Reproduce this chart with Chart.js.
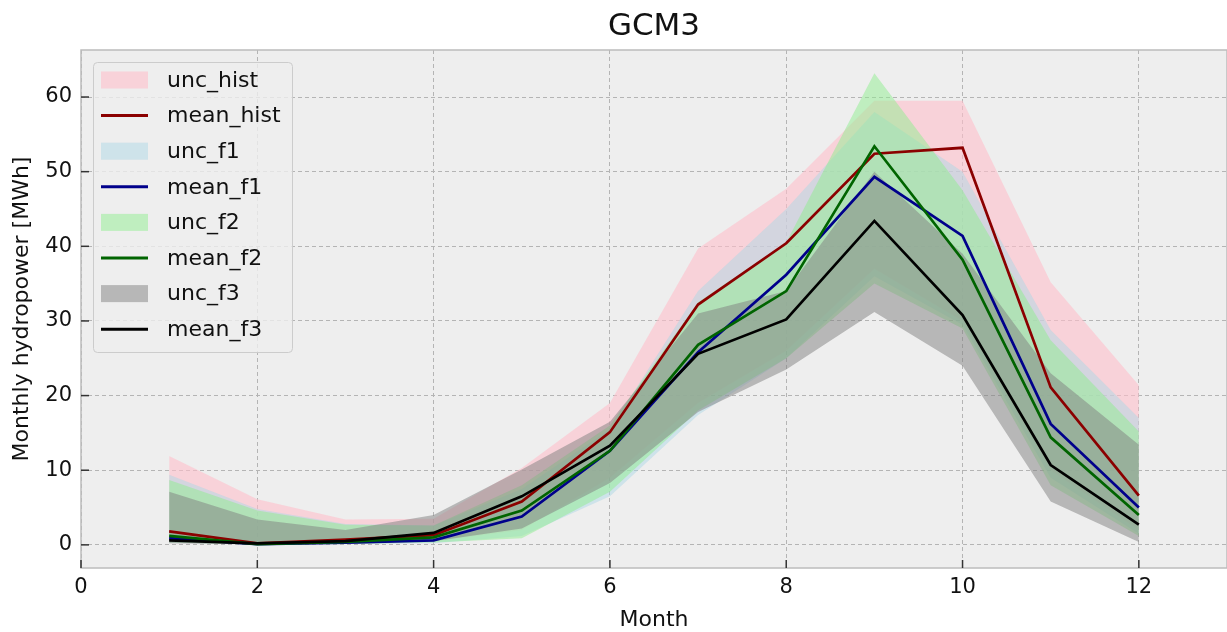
<!DOCTYPE html>
<html>
<head>
<meta charset="utf-8">
<script src="https://cdn.jsdelivr.net/npm/chart.js@4"></script>
<style>
html,body{margin:0;padding:0;background:#fff;}
#wrap{width:1227px;height:632px;position:relative;}
</style>
</head>
<body>
<div id="wrap"><canvas id="c" width="1227" height="632"></canvas></div>
<script>
// ---- data ----
const months = [1,2,3,4,5,6,7,8,9,10,11,12];
const xTicks = [0,2,4,6,8,10,12];
const yTicks = [0,10,20,30,40,50,60];

const meanHist = [1.8, 0.2, 0.7, 1.3, 5.8, 15.1, 32.2, 40.4, 52.4, 53.2, 21.1, 6.6];
const meanF1   = [0.9, 0.1, 0.3, 0.6, 3.8, 12.6, 25.8, 36.2, 49.3, 41.4, 16.2, 5.0];
const meanF2   = [1.2, 0.1, 0.4, 1.0, 4.6, 12.6, 26.8, 34.0, 53.4, 38.2, 14.4, 4.0];
const meanF3   = [0.6, 0.2, 0.5, 1.6, 6.5, 13.3, 25.6, 30.2, 43.4, 30.8, 10.7, 2.7];

const histHigh = [11.9, 6.1, 3.4, 3.5, 10.3, 19.0, 39.7, 47.7, 59.5, 59.5, 35.2, 21.4];
const f1High   = [9.4, 4.8, 2.8, 2.6, 7.5, 15.5, 34.0, 45.0, 58.0, 50.0, 28.8, 17.0];
const f2High   = [8.7, 4.6, 2.7, 2.6, 8.0, 16.0, 32.5, 40.5, 63.2, 47.5, 27.4, 15.2];
const f3High   = [7.1, 3.4, 2.0, 4.0, 10.1, 16.5, 31.0, 34.0, 50.0, 39.0, 23.0, 13.4];

const histLow  = [0.5, 0.1, 0.2, 0.5, 2.0, 9.0, 19.0, 26.0, 37.0, 30.0, 10.0, 2.0];
const f1Low    = [0.3, 0.05, 0.1, 0.2, 1.2, 6.5, 17.4, 25.0, 36.0, 29.5, 9.0, 1.5];
const f2Low    = [0.3, 0.05, 0.1, 0.3, 0.9, 7.1, 18.0, 25.0, 35.0, 29.0, 8.0, 1.2];
const f3Low    = [0.2, 0.05, 0.1, 0.5, 2.2, 8.3, 17.8, 23.5, 31.2, 24.0, 5.8, 0.4];

const titleText = 'GCM3';
const xLabel = 'Month';
const yLabel = 'Monthly hydropower [MWh]';

// ---- build ----
const FONT = "'DejaVu Sans', sans-serif";
const pts = arr => months.map((m, i) => ({x: m, y: arr[i]}));

const groups = [
  {unc: 'unc_hist', mean: 'mean_hist', lo: histLow, hi: histHigh, m: meanHist, fill: 'rgba(255,192,203,0.6)', line: '#8b0000'},
  {unc: 'unc_f1',   mean: 'mean_f1',   lo: f1Low,   hi: f1High,   m: meanF1,   fill: 'rgba(173,216,230,0.5)', line: '#00008b'},
  {unc: 'unc_f2',   mean: 'mean_f2',   lo: f2Low,   hi: f2High,   m: meanF2,   fill: 'rgba(144,238,144,0.5)', line: '#006400'},
  {unc: 'unc_f3',   mean: 'mean_f3',   lo: f3Low,   hi: f3High,   m: meanF3,   fill: 'rgba(128,128,128,0.5)', line: '#000000'}
];

const datasets = [];
let fillOrd = 100, lineOrd = 10;
groups.forEach(g => {
  datasets.push({label: g.unc + '_low', data: pts(g.lo), borderColor: 'rgba(0,0,0,0)', borderWidth: 0,
    pointRadius: 0, fill: false, order: fillOrd--, tension: 0, legendSkip: true});
  datasets.push({label: g.unc, data: pts(g.hi), borderColor: 'rgba(0,0,0,0)', borderWidth: 0,
    pointRadius: 0, fill: '-1', backgroundColor: g.fill, order: fillOrd--, tension: 0, legendKind: 'box'});
  datasets.push({label: g.mean, data: pts(g.m), borderColor: g.line, borderWidth: 2.7,
    pointRadius: 0, fill: false, order: lineOrd--, tension: 0, legendKind: 'line'});
});

const bgPlugin = {
  id: 'bg',
  beforeDraw(chart) {
    const {ctx, chartArea: a} = chart;
    ctx.save();
    ctx.fillStyle = '#eeeeee';
    ctx.fillRect(a.left, a.top, a.right - a.left, a.bottom - a.top);
    ctx.restore();
  },
  afterDraw(chart) {
    const {ctx, chartArea: a, scales} = chart;
    ctx.save();
    // frame
    ctx.strokeStyle = '#bcbcbc';
    ctx.lineWidth = 1.5;
    ctx.strokeRect(a.left, a.top, a.right - a.left, a.bottom - a.top);
    // inward ticks
    ctx.strokeStyle = '#333';
    ctx.lineWidth = 1.5;
    xTicks.forEach(v => {
      const px = scales.x.getPixelForValue(v);
      ctx.beginPath(); ctx.moveTo(px, a.bottom); ctx.lineTo(px, a.bottom - 8); ctx.stroke();
    });
    yTicks.forEach(v => {
      const py = scales.y.getPixelForValue(v);
      ctx.beginPath(); ctx.moveTo(a.left, py); ctx.lineTo(a.left + 8, py); ctx.stroke();
    });
    // title
    ctx.fillStyle = '#111';
    ctx.font = '31px ' + FONT;
    ctx.textAlign = 'center';
    ctx.textBaseline = 'alphabetic';
    ctx.fillText(titleText, (a.left + a.right) / 2, 35);
    // legend
    const items = chart.data.datasets.filter(d => !d.legendSkip);
    const bx = 93, by = 62, bw = 199, bh = 290;
    ctx.fillStyle = 'rgba(238,238,238,0.8)';
    ctx.strokeStyle = '#cccccc';
    ctx.lineWidth = 1;
    ctx.beginPath();
    ctx.roundRect(bx + 0.5, by + 0.5, bw, bh, 4);
    ctx.fill(); ctx.stroke();
    ctx.font = '22px ' + FONT;
    ctx.textAlign = 'left';
    ctx.textBaseline = 'middle';
    items.forEach((d, i) => {
      const cy = 80 + i * 35.6;
      if (d.legendKind === 'box') {
        ctx.fillStyle = d.backgroundColor;
        ctx.fillRect(101, cy - 8.5, 47, 17);
      } else {
        ctx.strokeStyle = d.borderColor;
        ctx.lineWidth = 3;
        ctx.beginPath(); ctx.moveTo(101, cy); ctx.lineTo(148, cy); ctx.stroke();
      }
      ctx.fillStyle = '#111';
      ctx.fillText(d.label, 167, cy + 1);
    });
    ctx.restore();
  }
};

new Chart(document.getElementById('c'), {
  type: 'line',
  data: {datasets},
  plugins: [bgPlugin],
  options: {
    responsive: false,
    animation: false,
    parsing: true,
    layout: {padding: {top: 50, left: 0, right: 0, bottom: 0}},
    plugins: {
      legend: {display: false},
      title: {display: false},
      tooltip: {enabled: false},
      filler: {propagate: false}
    },
    scales: {
      x: {
        type: 'linear', min: 0, max: 13,
        afterBuildTicks: s => { s.ticks = xTicks.map(v => ({value: v})); },
        afterFit: s => { s.height = 64; },
        ticks: {font: {family: FONT, size: 21}, color: '#111', padding: 7, includeBounds: false, maxRotation: 0},
        grid: {color: '#b4b4b4', lineWidth: 1, drawTicks: false},
        border: {display: false, dash: [4, 3]},
        title: {display: true, text: xLabel, font: {family: FONT, size: 22, lineHeight: 1.0}, color: '#111', padding: {top: 0, bottom: 1}}
      },
      y: {
        type: 'linear', min: -3.1, max: 66.3,
        afterBuildTicks: s => { s.ticks = yTicks.map(v => ({value: v})); },
        afterFit: s => { s.width = 81; },
        ticks: {font: {family: FONT, size: 21}, color: '#111', padding: 9, includeBounds: false},
        grid: {color: '#b4b4b4', lineWidth: 1, drawTicks: false},
        border: {display: false, dash: [4, 3]},
        title: {display: true, text: yLabel, font: {family: FONT, size: 22, lineHeight: 1.0}, color: '#111', padding: {top: 11.5, bottom: 0}}
      }
    }
  }
});
</script>
</body>
</html>
